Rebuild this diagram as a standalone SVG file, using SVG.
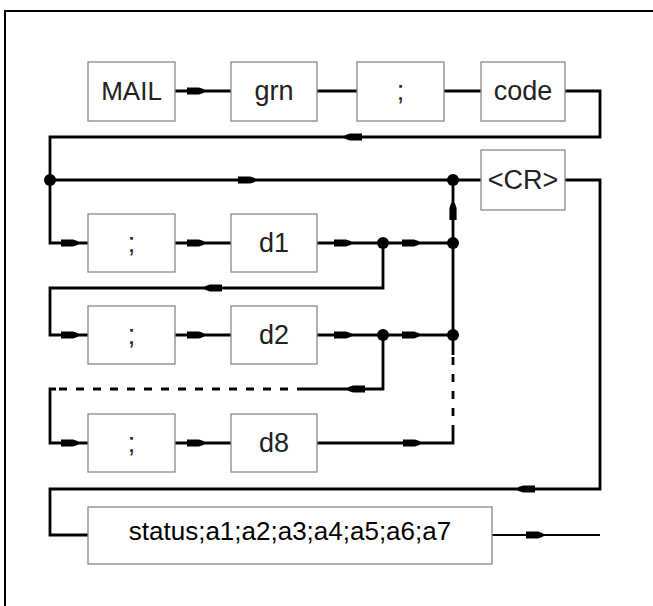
<svg xmlns="http://www.w3.org/2000/svg" xmlns:xlink="http://www.w3.org/1999/xlink" width="653" height="606" viewBox="0 0 653 606">
<style>
.box{fill:#fff;stroke:#888;stroke-width:1.3}
.lbl{font-family:"Liberation Sans",Arial,sans-serif;font-size:27px;fill:#222;text-anchor:middle}
.ln{fill:none;stroke:#000;stroke-width:2.8}
.dash{fill:none;stroke:#000;stroke-width:2.8;stroke-dasharray:8 9}
.dot{fill:#000}
.frame{fill:none;stroke:#000;stroke-width:2}
</style>
<defs>
<path id="ar" d="M-10,-3.6 L2,-3.6 Q6,-3 9,0 Q6,3 2,3.6 L-10,3.6 Z" fill="#000"/>
</defs>
<rect width="653" height="606" fill="#fff"/>
<path class="frame" d="M5,606 V11 H653"/>
<g id="connectors">
<path class="ln" d="M175,91 H231"/>
<path class="ln" d="M317,91 H357"/>
<path class="ln" d="M444,91 H481"/>
<path class="ln" d="M565,91 H600 V137 H50 V243 H88"/>
<path class="ln" d="M50,180 H481"/>
<path class="ln" d="M565,180 H600 V489 H50 V535 H88"/>
<path class="ln" style="stroke-width:2.2" d="M492,535 H600"/>
<path class="ln" d="M175,243 H231"/>
<path class="ln" d="M317,243 H453"/>
<path class="ln" d="M383,243 V288 H50 V335 H88"/>
<path class="ln" d="M175,335 H231"/>
<path class="ln" d="M317,335 H453"/>
<path class="ln" d="M383,335 V389 H305"/>
<path class="dash" d="M305,389 H56"/>
<path class="ln" d="M56,389 H50 V443 H88"/>
<path class="ln" d="M175,443 H231"/>
<path class="ln" d="M317,443 H453 V433"/>
<path class="dash" d="M453,433 V355"/>
<path class="ln" d="M453,180 V355"/>
<use xlink:href="#ar" transform="translate(197,91)"/>
<use xlink:href="#ar" transform="translate(352,137) rotate(180)"/>
<use xlink:href="#ar" transform="translate(248,180)"/>
<use xlink:href="#ar" transform="translate(71,243)"/>
<use xlink:href="#ar" transform="translate(197,243)"/>
<use xlink:href="#ar" transform="translate(344,243)"/>
<use xlink:href="#ar" transform="translate(412,243)"/>
<use xlink:href="#ar" transform="translate(212,288) rotate(180)"/>
<use xlink:href="#ar" transform="translate(71,335)"/>
<use xlink:href="#ar" transform="translate(197,335)"/>
<use xlink:href="#ar" transform="translate(344,335)"/>
<use xlink:href="#ar" transform="translate(412,335)"/>
<use xlink:href="#ar" transform="translate(355,389) rotate(180)"/>
<use xlink:href="#ar" transform="translate(71,443)"/>
<use xlink:href="#ar" transform="translate(197,443)"/>
<use xlink:href="#ar" transform="translate(413,443)"/>
<use xlink:href="#ar" transform="translate(525,489) rotate(180)"/>
<use xlink:href="#ar" transform="translate(536,535)"/>
<use xlink:href="#ar" transform="translate(453,210) rotate(-90)"/>
<circle class="dot" cx="50" cy="180" r="6"/>
<circle class="dot" cx="453" cy="180" r="6"/>
<circle class="dot" cx="383" cy="243" r="6"/>
<circle class="dot" cx="453" cy="243" r="6"/>
<circle class="dot" cx="383" cy="335" r="6"/>
<circle class="dot" cx="453" cy="335" r="6"/>
</g>
<g id="mail"><rect class="box" x="88" y="62" width="87" height="59"/><text class="lbl" x="131.5" y="100" style="font-size:26px">MAIL</text></g>
<g id="grn"><rect class="box" x="231" y="62" width="86" height="59"/><text class="lbl" x="274" y="100">grn</text></g>
<g id="semi0"><rect class="box" x="357" y="62" width="87" height="59"/><text class="lbl" x="400.5" y="100">;</text></g>
<g id="code"><rect class="box" x="481" y="62" width="84" height="59"/><text class="lbl" x="523" y="100">code</text></g>
<g id="cr"><rect class="box" x="481" y="150" width="84" height="60"/><text class="lbl" x="523" y="189">&lt;CR&gt;</text></g>
<g id="semi1"><rect class="box" x="88" y="214" width="87" height="58"/><text class="lbl" x="131.5" y="252">;</text></g>
<g id="d1"><rect class="box" x="231" y="214" width="86" height="58"/><text class="lbl" x="274" y="252">d1</text></g>
<g id="semi2"><rect class="box" x="88" y="306" width="87" height="58"/><text class="lbl" x="131.5" y="344">;</text></g>
<g id="d2"><rect class="box" x="231" y="306" width="86" height="58"/><text class="lbl" x="274" y="344">d2</text></g>
<g id="semi8"><rect class="box" x="88" y="414" width="87" height="58"/><text class="lbl" x="131.5" y="452">;</text></g>
<g id="d8"><rect class="box" x="231" y="414" width="86" height="58"/><text class="lbl" x="274" y="452">d8</text></g>
<g id="status"><rect class="box" x="88" y="507" width="404" height="57"/><text class="lbl" style="fill:#000;font-size:26px" x="290" y="540">status;a1;a2;a3;a4;a5;a6;a7</text></g>
</svg>
